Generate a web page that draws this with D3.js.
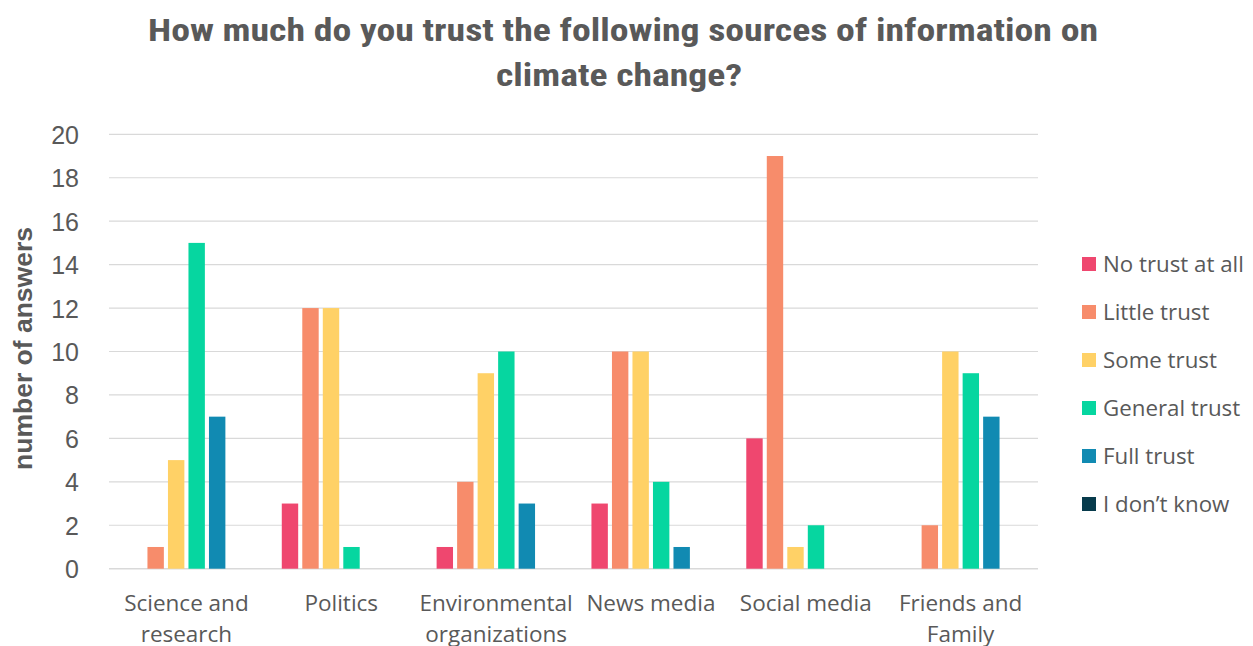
<!DOCTYPE html>
<html>
<head>
<meta charset="utf-8">
<script src="https://cdn.jsdelivr.net/npm/d3@7"></script>
<style>
  html, body { margin: 0; padding: 0; background: #fff; }
  svg { display: block; }
</style>
</head>
<body>
<svg id="chart" width="1253" height="646"></svg>
<script>
// Survey answers: trust in sources of climate-change information
const categories = [
  ["Science and", "research"],
  ["Politics"],
  ["Environmental", "organizations"],
  ["News media"],
  ["Social media"],
  ["Friends and", "Family"]
];
const seriesNames = ["No trust at all", "Little trust", "Some trust", "General trust", "Full trust", "I don\u2019t know"];
const seriesColors = ["#EF476F", "#F78C6B", "#FFD166", "#06D6A0", "#118AB2", "#073B4C"];

const noTrust      = [0, 3, 1, 3, 6, 0];
const littleTrust  = [1, 12, 4, 10, 19, 2];
const someTrust    = [5, 12, 9, 10, 1, 10];
const generalTrust = [15, 1, 10, 4, 2, 9];
const fullTrust    = [7, 0, 3, 1, 0, 7];
const dontKnow     = [0, 0, 0, 0, 0, 0];
const seriesValues = [noTrust, littleTrust, someTrust, generalTrust, fullTrust, dontKnow];

const yTicks = [0, 2, 4, 6, 8, 10, 12, 14, 16, 18, 20];

const svg = d3.select("#chart");
const textColor = "#595959";
const plot = { left: 109, right: 1038, top: 134.3, bottom: 568.7 };

const catKeys = categories.map(c => c.join(" "));
const x0 = d3.scaleBand().domain(catKeys).range([plot.left, plot.right]).paddingInner(0).paddingOuter(0);
const x1 = d3.scaleBand().domain(seriesNames).range([0, x0.bandwidth()]).paddingInner(0.2).paddingOuter(0.875);
const y = d3.scaleLinear().domain([0, 20]).range([plot.bottom, plot.top]);

// Gridlines
svg.append("g")
  .selectAll("line")
  .data(yTicks)
  .join("line")
  .attr("x1", plot.left).attr("x2", plot.right)
  .attr("y1", d => y(d)).attr("y2", d => y(d))
  .attr("stroke", "#d9d9d9")
  .attr("stroke-width", d => d === 0 ? 1.5 : 1.2);

// Y axis tick labels
const yAxis = d3.axisLeft(y).tickValues(yTicks).tickSize(0).tickPadding(0);
const yg = svg.append("g").attr("transform", `translate(${plot.left - 30},0)`).call(yAxis);
yg.select(".domain").remove();
yg.selectAll("text")
  .attr("font-family", "'Liberation Sans', Arial, sans-serif")
  .attr("font-size", 25)
  .attr("fill", textColor)
  .attr("dy", "0.36em");

// Bars
const groups = svg.append("g")
  .selectAll("g")
  .data(catKeys)
  .join("g")
  .attr("transform", d => `translate(${x0(d)},0)`);

groups.selectAll("rect")
  .data((d, i) => seriesNames.map((s, j) => ({ s, v: seriesValues[j][i], c: seriesColors[j] })))
  .join("rect")
  .attr("x", d => x1(d.s))
  .attr("width", x1.bandwidth())
  .attr("y", d => y(d.v))
  .attr("height", d => y(0) - y(d.v))
  .attr("fill", d => d.c);

// Category labels (x axis)
const xAxis = d3.axisBottom(x0).tickSize(0).tickFormat(() => "");
const xg = svg.append("g").attr("transform", `translate(0,${plot.bottom})`).call(xAxis);
xg.select(".domain").remove();
xg.selectAll(".tick").each(function(d, i) {
  const t = d3.select(this).append("text")
    .attr("font-family", "'Open Sans', sans-serif")
    .attr("font-size", 22.5)
    .attr("fill", textColor)
    .attr("text-anchor", "middle");
  categories[i].forEach((line, k) => {
    t.append("tspan").attr("x", 0).attr("y", 42 + k * 31).text(line);
  });
});

// Y axis title
svg.append("text")
  .attr("transform", `translate(32,${(plot.top + plot.bottom) / 2 - 3}) rotate(-90)`)
  .attr("text-anchor", "middle")
  .attr("font-family", "'Liberation Sans', Arial, sans-serif")
  .attr("font-weight", "bold")
  .attr("font-size", 26.5)
  .attr("fill", textColor)
  .text("number of answers");

// Chart title
const title = svg.append("text")
  .attr("text-anchor", "middle")
  .attr("font-family", "'Liberation Sans Narrow', 'Roboto Condensed', 'DejaVu Sans Condensed', sans-serif")
  .attr("font-weight", "bold")
  .attr("font-size", 31)
  .attr("fill", textColor);
title.append("tspan").attr("x", 623).attr("y", 41)
  .attr("textLength", 950).attr("lengthAdjust", "spacingAndGlyphs")
  .text("How much do you trust the following sources of information on");
title.append("tspan").attr("x", 619).attr("y", 86)
  .attr("textLength", 246).attr("lengthAdjust", "spacingAndGlyphs")
  .text("climate change?");

// Legend
const legend = svg.append("g")
  .selectAll("g")
  .data(seriesNames)
  .join("g")
  .attr("transform", (d, i) => `translate(1082,${264 + i * 48})`);
legend.append("rect")
  .attr("x", 0).attr("y", -7).attr("width", 14).attr("height", 14)
  .attr("fill", (d, i) => seriesColors[i]);
legend.append("text")
  .attr("x", 21).attr("y", 0).attr("dy", "0.35em")
  .attr("font-family", "'Open Sans', sans-serif")
  .attr("font-size", 22.3)
  .attr("fill", textColor)
  .text(d => d);
</script>
</body>
</html>
